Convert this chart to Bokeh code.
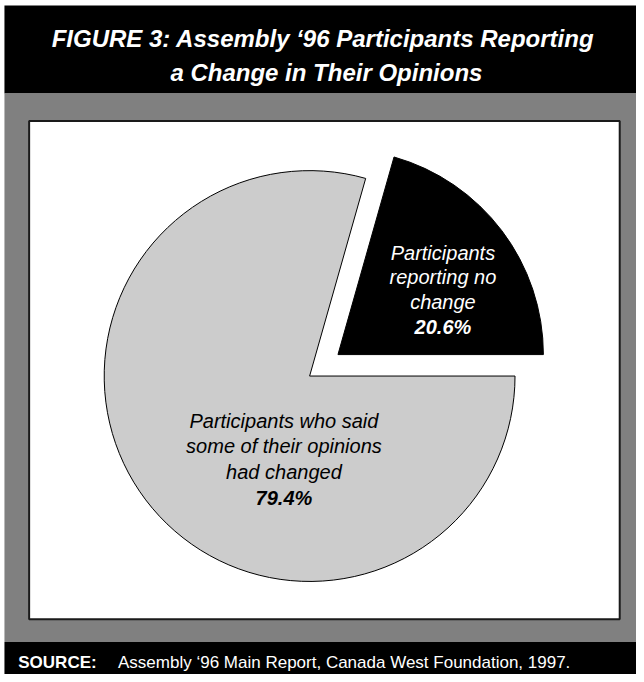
import math
from bokeh.plotting import figure
from bokeh.models import Range1d, ColumnDataSource
from bokeh.core.properties import value
from bokeh.embed import file_html
from bokeh.resources import INLINE

# ---------------- data ----------------
title_lines = ["FIGURE 3:  Assembly \u201896 Participants Reporting",
               "a Change in Their Opinions"]
source_label = "SOURCE:"
source_text = "Assembly \u201896 Main Report, Canada West Foundation, 1997."

categories = ["Participants reporting no change",
              "Participants who said some of their opinions had changed"]
shares = [20.6, 79.4]
label_lines = [["Participants", "reporting no", "change"],
               ["Participants who said", "some of their opinions", "had changed"]]
slice_colors = ["#000000", "#cccccc"]
text_colors = ["#ffffff", "#000000"]
explode = [36, 0]

# ---------------- layout ----------------
W, H = 636, 674
FONT = value("Liberation Sans")

def Y(y_ref):
    # reference y (from window top) -> data y (bottom-up)
    return 682 - y_ref

p = figure(width=W, height=H, output_backend="svg", toolbar_location=None,
           x_range=Range1d(0, 644), y_range=Range1d(0, 682),
           x_axis_type=None, y_axis_type=None, min_border=0,
           background_fill_color="white", border_fill_color="white")
p.outline_line_color = None
p.grid.visible = False

# header band, gray frame, source band
p.quad(left=[4], right=[644], top=[Y(5)], bottom=[Y(94)], fill_color="black", line_color=None)
p.quad(left=[4], right=[644], top=[Y(94)], bottom=[Y(649)], fill_color="#808080", line_color=None)
p.quad(left=[4], right=[644], top=[Y(649)], bottom=[Y(682)], fill_color="black", line_color=None)
# white panel
p.quad(left=[29], right=[627], top=[Y(122)], bottom=[Y(626)], fill_color="white",
       line_color="#1a1a1a", line_width=2)

# title
for txt, base in zip(title_lines, [38, 73]):
    p.text(x=[330], y=[Y(base)], text=[txt], text_align="center", text_baseline="alphabetic",
           text_color="white", text_font=FONT, text_font_style="bold italic", text_font_size="24px")

# source
p.text(x=[18], y=[Y(670)], text=[source_label], text_align="left", text_baseline="alphabetic",
       text_color="white", text_font=FONT, text_font_style="bold", text_font_size="17px")
p.text(x=[119], y=[Y(670)], text=[source_text], text_align="left", text_baseline="alphabetic",
       text_color="white", text_font=FONT, text_font_style="normal", text_font_size="17px")

# pie
cx, cy, r = 313, Y(380), 208
total = sum(shares)
starts, ends, xs, ys = [], [], [], []
acc = 0.0
for s, e in zip(shares, explode):
    a0 = 2 * math.pi * acc / total
    acc += s
    a1 = 2 * math.pi * acc / total
    mid = (a0 + a1) / 2
    starts.append(a0)
    ends.append(a1)
    xs.append(cx + e * math.cos(mid))
    ys.append(cy + e * math.sin(mid))

src = ColumnDataSource(dict(x=xs, y=ys, start=starts, end=ends, color=slice_colors, name=categories))
p.wedge(x="x", y="y", radius=r, start_angle="start", end_angle="end", source=src,
        fill_color="color", line_color="black", line_width=1)

# labels (layout positions)
label_pos = [(448, [255, 280, 305, 330]), (287, [425, 451, 477, 503])]
for i, (lx, bases) in enumerate(label_pos):
    for j, line in enumerate(label_lines[i]):
        p.text(x=[lx], y=[Y(bases[j])], text=[line], text_align="center", text_baseline="alphabetic",
               text_color=text_colors[i], text_font=FONT, text_font_style="italic", text_font_size="20px")
    p.text(x=[lx], y=[Y(bases[3])], text=[f"{shares[i]:.1f}%"], text_align="center",
           text_baseline="alphabetic", text_color=text_colors[i], text_font=FONT,
           text_font_style="bold italic", text_font_size="20px")

open("out.html", "w").write(file_html(p, INLINE))
